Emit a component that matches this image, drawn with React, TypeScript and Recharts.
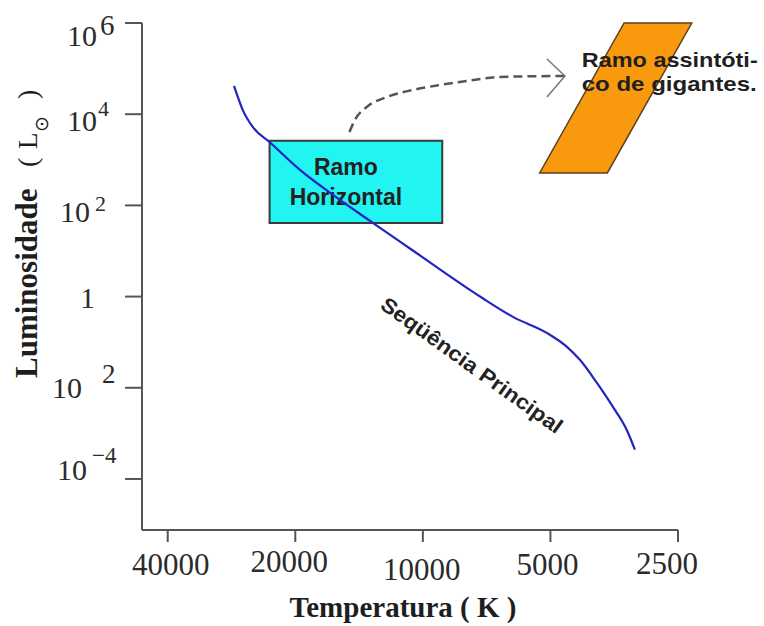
import React from "react";
import { LineChart, Line, XAxis, YAxis, ReferenceArea, ReferenceDot } from "recharts";

// main sequence (temperature in K, luminosity in L_sun)
const mainTemp = [27900, 26600, 25200, 23000, 19500, 16300, 13100, 11300, 10600, 7300, 6100, 5100, 4570, 4260, 3880, 3560, 3300, 3160];
const mainLum = [41700, 12300, 5250, 2450, 600, 170, 41, 15.8, 10.5, 0.98, 0.35, 0.16, 0.079, 0.041, 0.0126, 0.0038, 0.00117, 0.00044];

// dashed arrow from the horizontal branch to the AGB
const arrowTemp = [14900, 14470, 13560, 12160, 10560, 9120, 7880, 6580, 4620];
const arrowLum = [4070, 7460, 14400, 23800, 34000, 43700, 53500, 65500, 68900];

const tempTicks = [40000, 20000, 10000, 5000, 2500];
const lumTicks = [1e6, 1e4, 1e2, 1, 1e-2, 1e-4];

// regions: [T1, T2, L1, L2]
const horizontalBranch = [23000, 9000, 41, 2600];
const agbRegion = [5300, 2320, 514, 1e6];
const seqLabelAt = [7660, 0.0316];

const mainData = mainTemp.map((t, i) => ({ T: t, L: mainLum[i] }));
const arrowData = arrowTemp.map((t, i) => ({ T: t, L: arrowLum[i] }));

const SERIF = '"Liberation Serif", "Times New Roman", serif';
const SANS = '"Liberation Sans", Arial, sans-serif';

// hand placed label offsets, as in the original figure
const xTickPos: Record<number, [number, number]> = {
  40000: [3, 33],
  20000: [-6, 30],
  10000: [-1, 38],
  5000: [-3, 33],
  2500: [-11, 32],
};

const XTick = (props: any) => {
  const { x, y, payload } = props;
  const [dx, dy] = xTickPos[payload.value] || [0, 33];
  return (
    <text x={x + dx} y={y + dy} textAnchor="middle" fontFamily={SERIF} fontSize={31} fill="#2b2b2b">
      {payload.value}
    </text>
  );
};

// [baseEndDx, baseDy, supText, supDx, supDy, supSize]
const yTickPos: Record<string, [number, number, string, number, number, number]> = {
  "6": [-28, 23, "6", -25, 12, 29],
  "4": [-28, 17, "4", -27, 2, 22],
  "2": [-35, 17, "2", -30, 6, 22],
  "0": [-30, 11, "", 0, 0, 0],
  "-2": [-43, 10, "2", -23, -5, 27],
  "-4": [-38, 1, "\u22124", -33, -16, 23],
};

const YTick = (props: any) => {
  const { x, y, payload } = props;
  const exp = String(Math.round(Math.log10(payload.value)));
  const [bx, by, sup, sx, sy, ss] = yTickPos[exp];
  return (
    <g fontFamily={SERIF} fill="#2b2b2b">
      <text x={x + bx} y={y + by} textAnchor="end" fontSize={30}>
        {exp === "0" ? "1" : "10"}
      </text>
      {sup && (
        <text x={x + sx} y={y + sy} fontSize={ss}>
          {sup}
        </text>
      )}
    </g>
  );
};

const YTitle = () => (
  <text transform="translate(37,378) rotate(-90)" fontFamily={SERIF} fill="#1e1e1e">
    <tspan x={0} y={0} fontSize={31} fontWeight={700}>Luminosidade</tspan>
    <tspan x={211} y={0} fontSize={28}>(</tspan>
    <tspan x={229} y={0} fontSize={27}>L</tspan>
    <tspan x={246} y={11} fontSize={19} fontFamily="DejaVu Sans">{"\u2299"}</tspan>
    <tspan x={279} y={0} fontSize={28}>)</tspan>
  </text>
);

const XTitle = () => (
  <text x={403} y={617} textAnchor="middle" fontFamily={SERIF} fontSize={29} fontWeight={700} fill="#1e1e1e">
    Temperatura ( K )
  </text>
);

const BoxLabel = (props: any) => {
  const { x, y, width } = props.viewBox;
  const cx = x + width / 2 - 10;
  return (
    <g fontFamily={SANS} fontWeight={700} fontSize={23} fill="#222" textAnchor="middle">
      <text x={cx} y={y + 34}>Ramo</text>
      <text x={cx} y={y + 64}>Horizontal</text>
    </g>
  );
};

const AgbShape = (props: any) => {
  const { x, y, width: w, height: h } = props;
  const pts = [
    [x + 0.555 * w, y],
    [x + w, y],
    [x + 0.445 * w, y + h],
    [x, y + h],
  ]
    .map((p) => p.join(","))
    .join(" ");
  return (
    <g>
      <polygon points={pts} fill="#F99A0E" stroke="#5a4020" strokeWidth={1.5} />
      <g fontFamily={SANS} fontWeight={700} fontSize={21} fill="#1f1f1f">
        <text x={x + 42} y={y + 44} textLength={176} lengthAdjust="spacingAndGlyphs">
          Ramo assintóti-
        </text>
        <text x={x + 42} y={y + 68} textLength={175} lengthAdjust="spacingAndGlyphs">
          co de gigantes.
        </text>
      </g>
    </g>
  );
};

const SeqLabel = (props: any) => {
  const { cx, cy } = props;
  return (
    <text
      x={cx}
      y={cy}
      transform={`rotate(35.6, ${cx}, ${cy})`}
      textAnchor="middle"
      dominantBaseline="central"
      fontFamily={SANS}
      fontWeight={700}
      fontSize={21}
      fill="#222"
      textLength={218}
      lengthAdjust="spacingAndGlyphs"
    >
      Seqüência Principal
    </text>
  );
};

const ArrowDot = (props: any) => {
  const { cx, cy, index } = props;
  if (index !== arrowData.length - 1) return <g key={index} />;
  return (
    <polyline
      key={index}
      points={`${cx - 18},${cy - 17} ${cx},${cy} ${cx - 18},${cy + 21}`}
      fill="none"
      stroke="#777"
      strokeWidth={1.5}
    />
  );
};

const axisStyle = { stroke: "#555", strokeWidth: 2 };

export default function App() {
  return (
    <div style={{ position: "absolute", left: 0, top: 0, background: "#fff" }}>
      <LineChart width={764} height={626} margin={{ top: 23, right: 86, bottom: 0, left: 0 }}>
        <XAxis
          dataKey="T"
          type="number"
          scale="log"
          domain={[2500, 46000]}
          allowDataOverflow
          reversed
          ticks={tempTicks}
          tickSize={12}
          tickMargin={0}
          height={96}
          axisLine={axisStyle}
          tickLine={axisStyle}
          tick={<XTick />}
          interval={0}
        />
        <YAxis
          dataKey="L"
          type="number"
          scale="log"
          domain={[7.6e-6, 1e6]}
          allowDataOverflow
          ticks={lumTicks}
          tickSize={17}
          tickMargin={0}
          width={142}
          axisLine={axisStyle}
          tickLine={axisStyle}
          tick={<YTick />}
          interval={0}
        />
        <ReferenceArea
          x1={horizontalBranch[0]}
          x2={horizontalBranch[1]}
          y1={horizontalBranch[2]}
          y2={horizontalBranch[3]}
          fill="#22F4F2"
          fillOpacity={1}
          stroke="#3a3a3a"
          strokeWidth={2}
          label={(p: any) => <BoxLabel viewBox={p.viewBox} />}
        />
        <ReferenceArea
          x1={agbRegion[0]}
          x2={agbRegion[1]}
          y1={agbRegion[2]}
          y2={agbRegion[3]}
          ifOverflow="visible"
          shape={(p: any) => <AgbShape {...p} />}
        />
        <ReferenceDot x={seqLabelAt[0]} y={seqLabelAt[1]} r={0} shape={(p: any) => <SeqLabel {...p} />} />
        <Line
          data={arrowData}
          dataKey="L"
          type="monotone"
          stroke="#555"
          strokeWidth={2.5}
          strokeDasharray="9 5"
          dot={(p: any) => <ArrowDot {...p} />}
          activeDot={false}
          isAnimationActive={false}
        />
        <Line
          data={mainData}
          dataKey="L"
          type="monotone"
          stroke="#2424C4"
          strokeWidth={2.2}
          dot={false}
          activeDot={false}
          isAnimationActive={false}
        />
      </LineChart>
      <svg width={764} height={626} style={{ position: "absolute", left: 0, top: 0, pointerEvents: "none" }}>
        <YTitle />
        <XTitle />
      </svg>
    </div>
  );
}
